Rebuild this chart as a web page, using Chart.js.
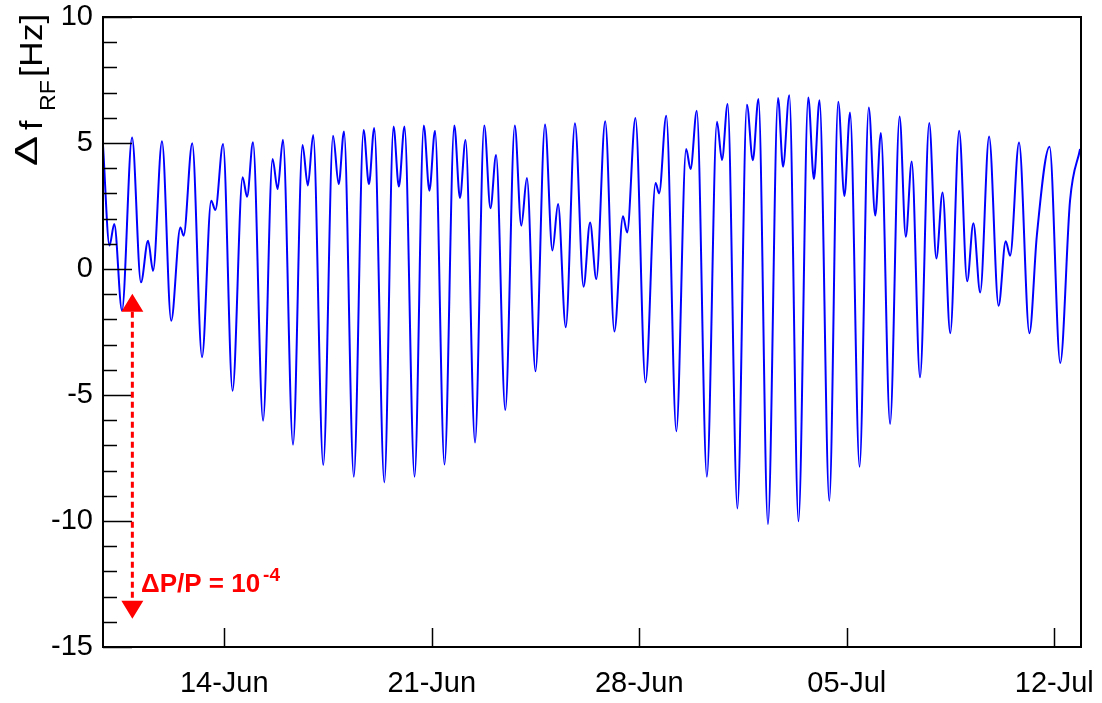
<!DOCTYPE html>
<html>
<head>
<meta charset="utf-8">
<script src="https://cdn.jsdelivr.net/npm/chart.js@4.4.1/dist/chart.umd.min.js"></script>
<style>
  body { margin: 0; background: #fff; }
  canvas { display: block; }
</style>
</head>
<body>
<canvas id="rfChart" width="1102" height="703"></canvas>
<script>
// RF frequency correction vs time (days counted from 1 June)
const timeDays = [9.91, 10.13, 10.29, 10.55, 10.89, 11.19, 11.43, 11.60, 11.90, 12.21,
    12.52, 12.63, 12.92, 13.25, 13.56, 13.70, 13.96, 14.28, 14.62, 14.77,
    14.97, 15.31, 15.63, 15.80, 15.98, 16.32, 16.64, 16.82, 17.00, 17.34,
    17.67, 17.86, 18.04, 18.37, 18.70, 18.88, 19.06, 19.40, 19.71, 19.89,
    20.08, 20.42, 20.73, 20.92, 21.11, 21.43, 21.76, 21.95, 22.14, 22.46,
    22.77, 22.98, 23.17, 23.48, 23.80, 24.02, 24.21, 24.50, 24.82, 25.07,
    25.26, 25.52, 25.83, 26.12, 26.34, 26.55, 26.85, 27.16, 27.45, 27.59,
    27.87, 28.21, 28.55, 28.67, 28.91, 29.25, 29.58, 29.73, 29.94, 30.28,
    30.62, 30.79, 30.98, 31.31, 31.63, 31.83, 32.02, 32.34, 32.68, 32.85,
    33.06, 33.37, 33.70, 33.89, 34.08, 34.41, 34.71, 34.92, 35.11, 35.43,
    35.74, 35.96, 36.15, 36.46, 36.78, 36.99, 37.19, 37.47, 37.78, 38.02,
    38.23, 38.49, 38.79, 39.06, 39.27, 39.50, 39.80, 40.12, 40.36, 40.51,
    40.81, 41.16, 41.41, 41.84, 42.20, 42.53, 42.87];

const dfHz = [4.9, 0.93, 1.79, -1.65, 5.22, -0.53, 1.12, -0.07, 5.07, -2.05,
    1.65, 1.32, 4.99, -3.5, 2.71, 2.34, 4.96, -4.83, 3.64, 2.87,
    5.03, -6.02, 4.37, 3.17, 5.13, -6.97, 4.92, 3.31, 5.32, -7.78,
    5.29, 3.37, 5.46, -8.24, 5.52, 3.37, 5.6, -8.47, 5.65, 3.27,
    5.65, -8.24, 5.69, 3.11, 5.49, -7.76, 5.69, 2.82, 5.12, -6.88,
    5.69, 2.41, 4.52, -5.6, 5.69, 1.72, 3.61, -4.06, 5.73, 0.73,
    2.58, -2.31, 5.78, -0.7, 1.85, -0.4, 5.86, -2.48, 2.09, 1.45,
    5.99, -4.5, 3.41, 3.0, 6.08, -6.44, 4.76, 3.97, 6.28, -8.24,
    5.84, 4.33, 6.55, -9.5, 6.52, 4.32, 6.75, -10.12, 6.79, 4.06,
    6.89, -10.01, 6.81, 3.57, 6.7, -9.2, 6.64, 2.9, 6.21, -7.85,
    6.41, 2.12, 5.4, -6.15, 6.05, 1.28, 4.27, -4.3, 5.79, 0.42,
    3.04, -2.55, 5.49, -0.49, 1.82, -0.93, 5.26, -1.46, 1.1, 0.53,
    5.02, -2.55, 1.32, 4.85, -3.73, 2.71, 4.76];

const tickDays = [14, 21, 28, 35, 42];
const tickLabels = ['14-Jun', '21-Jun', '28-Jun', '05-Jul', '12-Jul'];

// ΔP/P = 1e-4 marker: x position and the two arrow tips (Hz)
const markerDay = 10.9;
const markerTop = -0.98;
const markerBottom = -13.88;
const markerTextDay = 11.19;
const markerTextHz = -12.8;

const FONT = '"Liberation Sans", Arial, Helvetica, sans-serif';

// text drawn bottom-to-top, starting at canvas y = yStart, baseline at canvas x = xBase
function drawUp(ctx, text, font, xBase, yStart, stretch) {
    ctx.save();
    ctx.font = font;
    ctx.translate(xBase, yStart);
    ctx.rotate(-Math.PI / 2);
    ctx.scale(stretch || 1, 1);
    ctx.fillText(text, 0, 0);
    ctx.restore();
}

// frame, inward ticks, axis title and the ΔP/P arrow
const framePlugin = {
    id: 'frame',
    afterDraw(chart) {
        const ctx = chart.ctx;
        const a = chart.chartArea;
        const xs = chart.scales.x;
        const ys = chart.scales.y;
        ctx.save();

        ctx.strokeStyle = '#000';
        ctx.lineWidth = 2;
        ctx.strokeRect(a.left, a.top, a.right - a.left, a.bottom - a.top);

        ctx.lineWidth = 1.5;
        ctx.beginPath();
        for (let v = -15; v <= 10; v++) {
            const y = Math.round(ys.getPixelForValue(v)) + 0.5;
            const len = v % 5 === 0 ? 29 : 14;
            ctx.moveTo(a.left, y);
            ctx.lineTo(a.left + len, y);
        }
        tickDays.forEach(d => {
            const x = Math.round(xs.getPixelForValue(d)) + 0.5;
            ctx.moveTo(x, a.bottom);
            ctx.lineTo(x, a.bottom - 19);
        });
        ctx.stroke();

        // y title: Δ f_RF [Hz]
        ctx.fillStyle = '#000';
        ctx.textBaseline = 'alphabetic';
        ctx.textAlign = 'left';
        drawUp(ctx, 'Δ', '31px ' + FONT, 37, 166, 1.45);
        drawUp(ctx, 'f', '31px ' + FONT, 42, 130, 1.1);
        drawUp(ctx, 'RF', '22px ' + FONT, 55, 111, 1.05);
        drawUp(ctx, '[Hz]', '31px ' + FONT, 42, 77, 1.15);

        // dashed double arrow
        const red = '#ff0000';
        const mx = xs.getPixelForValue(markerDay);
        const yTop = ys.getPixelForValue(markerTop);
        const yBot = ys.getPixelForValue(markerBottom);
        const head = 18, half = 11;
        ctx.strokeStyle = red;
        ctx.fillStyle = red;
        ctx.lineWidth = 3;
        ctx.setLineDash([6, 4]);
        ctx.beginPath();
        ctx.moveTo(mx, yTop + head);
        ctx.lineTo(mx, yBot - head);
        ctx.stroke();
        ctx.setLineDash([]);
        ctx.beginPath();
        ctx.moveTo(mx, yTop);
        ctx.lineTo(mx - half, yTop + head);
        ctx.lineTo(mx + half, yTop + head);
        ctx.closePath();
        ctx.moveTo(mx, yBot);
        ctx.lineTo(mx - half, yBot - head);
        ctx.lineTo(mx + half, yBot - head);
        ctx.closePath();
        ctx.fill();

        const tx = xs.getPixelForValue(markerTextDay);
        const ty = ys.getPixelForValue(markerTextHz);
        ctx.font = 'bold 26px ' + FONT;
        ctx.fillText('ΔP/P = 10', tx, ty);
        const w = ctx.measureText('ΔP/P = 10').width;
        ctx.font = 'bold 19px ' + FONT;
        ctx.fillText('-4', tx + w + 3, ty - 11);

        ctx.restore();
    }
};

const ctx = document.getElementById('rfChart').getContext('2d');
const rfChart = new Chart(ctx, {
    type: 'line',
    data: {
        datasets: [{
            data: timeDays.map((t, i) => ({ x: t, y: dfHz[i] })),
            borderColor: '#0000ff',
            borderWidth: 2,
            pointRadius: 0,
            fill: false,
            cubicInterpolationMode: 'monotone'
        }]
    },
    options: {
        responsive: false,
        animation: false,
        layout: {
            autoPadding: false,
            padding: { top: 17, right: 21, left: 0, bottom: 0 }
        },
        plugins: {
            legend: { display: false },
            tooltip: { enabled: false }
        },
        scales: {
            x: {
                type: 'linear',
                min: 9.91,
                max: 42.9,
                grid: { display: false },
                border: { display: false },
                afterBuildTicks: scale => {
                    scale.ticks = tickDays.map(v => ({ value: v }));
                },
                afterFit: scale => {
                    scale.height = 56;
                    scale.paddingLeft = 0;
                    scale.paddingRight = 0;
                },
                ticks: {
                    autoSkip: false,
                    maxRotation: 0,
                    padding: 12,
                    color: '#000',
                    font: { family: FONT, size: 29 },
                    callback: (v, i) => tickLabels[i]
                }
            },
            y: {
                min: -15,
                max: 10,
                grid: { display: false, drawTicks: false },
                border: { display: false },
                afterFit: scale => {
                    scale.width = 103;
                    scale.paddingTop = 0;
                    scale.paddingBottom = 0;
                },
                ticks: {
                    stepSize: 5,
                    padding: 10,
                    color: '#000',
                    font: { family: FONT, size: 29 }
                }
            }
        }
    },
    plugins: [framePlugin]
});
</script>
</body>
</html>
